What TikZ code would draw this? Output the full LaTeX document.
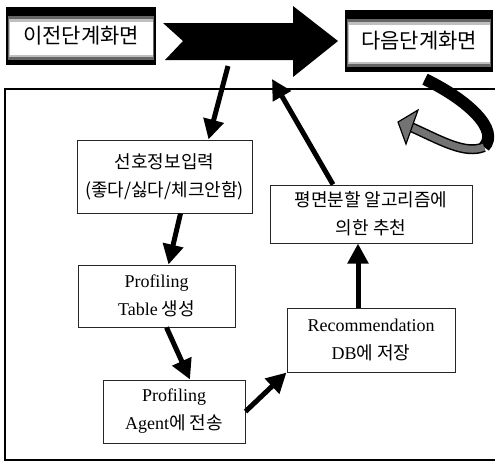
\documentclass[tikz,border=0pt]{standalone}
\usepackage{fontspec}
\setmainfont{Noto Sans CJK KR}
\newfontfamily\lat{Liberation Serif}
\usetikzlibrary{arrows.meta,calc}
\tikzset{
	topbox/.style={minimum width=150pt, minimum height=58pt, inner sep=0pt, fill=black,
		font=\fontsize{21}{21}\selectfont,
		path picture={
			\fill[black!60] ([xshift=2pt,yshift=-9pt]path picture bounding box.north west) rectangle ([xshift=-2pt,yshift=5pt]path picture bounding box.south east);
			\fill[black!25] ([xshift=3pt,yshift=-12pt]path picture bounding box.north west) rectangle ([xshift=-3pt,yshift=8pt]path picture bounding box.south east);
			\fill[white] ([xshift=4pt,yshift=-15pt]path picture bounding box.north west) rectangle ([xshift=-3pt,yshift=10pt]path picture bounding box.south east);
		}},
	stepbox/.style={draw=black!85, line width=1pt, fill=white, align=center, inner sep=0pt,
		font=\fontsize{18}{28}\selectfont},
	flowarr/.style={line width=5pt, -{Triangle[length=20pt,width=20pt]}},
}
\begin{document}
\begin{tikzpicture}[x=1pt, y=-1pt]
	\useasboundingbox (0,0) rectangle (495,467);

	\draw[line width=1.5pt] (5,89) rectangle (500,460);

	\node[topbox] (prev) at (81,36) {\raisebox{-2pt}{이전단계화면}};
	\node[topbox, minimum width=148pt, minimum height=62pt] (next) at (419,41) {\raisebox{-1pt}{다음단계화면}};

	\fill (163,23) -- (293,23) -- (293,6) -- (338,41) -- (293,77) -- (293,60) -- (165,60) -- (183,41) -- cycle;
	\coordinate (drop) at (228,66);
	\coordinate (back) at (272,79);

	\node[stepbox, minimum width=175pt, minimum height=73pt] (sel) at (164.5,176.5) {선호정보입력\\(좋다/싫다/체크안함)};
	\node[stepbox, minimum width=202pt, minimum height=58pt] (alg) at (371,214) {평면분할 알고리즘에\\의한 추천};
	\node[stepbox, minimum width=157pt, minimum height=62pt] (tab) at (156.5,296) {{\lat Profiling}\\{\lat Table} 생성};
	\node[stepbox, minimum width=168pt, minimum height=64pt] (rec) at (371,340) {{\lat Recommendation}\\{\lat DB}에 저장};
	\node[stepbox, minimum width=142pt, minimum height=63pt] (agt) at (174,411.5) {{\lat Profiling}\\{\lat Agent}에 전송};

	\draw[flowarr] (drop) -- ($(sel.north)+(44,0)$);
	\draw[flowarr] ($(sel.south)+(16,0)$) -- ($(tab.north)+(12,0)$);
	\draw[flowarr] ($(tab.south)+(10,0)$) -- ($(agt.north)+(16,0)$);
	\draw[flowarr] (agt.east) -- (rec.south west);
	\draw[flowarr] ($(rec.north)+(-13,0)$) -- ($(alg.south)+(-13,0)$);
	\draw[flowarr] ($(alg.north)+(-38,0)$) -- (back);

	\coordinate (curl) at (484,147);
	\coordinate (head) at (411,127);
	\draw[line width=12pt] ($(next.south)+(6,7)$) .. controls (468,100) and (500,130) .. (curl);
	\draw[line width=10pt] (curl) .. controls (465,155) and (440,140) .. (head);
	\draw[line width=7pt, black!55] (curl) .. controls (465,155) and (440,140) .. (head);
	\filldraw[fill=black!55, draw=black, line width=1.2pt] (398,122) -- (418,110) -- (406,144) -- cycle;
\end{tikzpicture}
\end{document}
